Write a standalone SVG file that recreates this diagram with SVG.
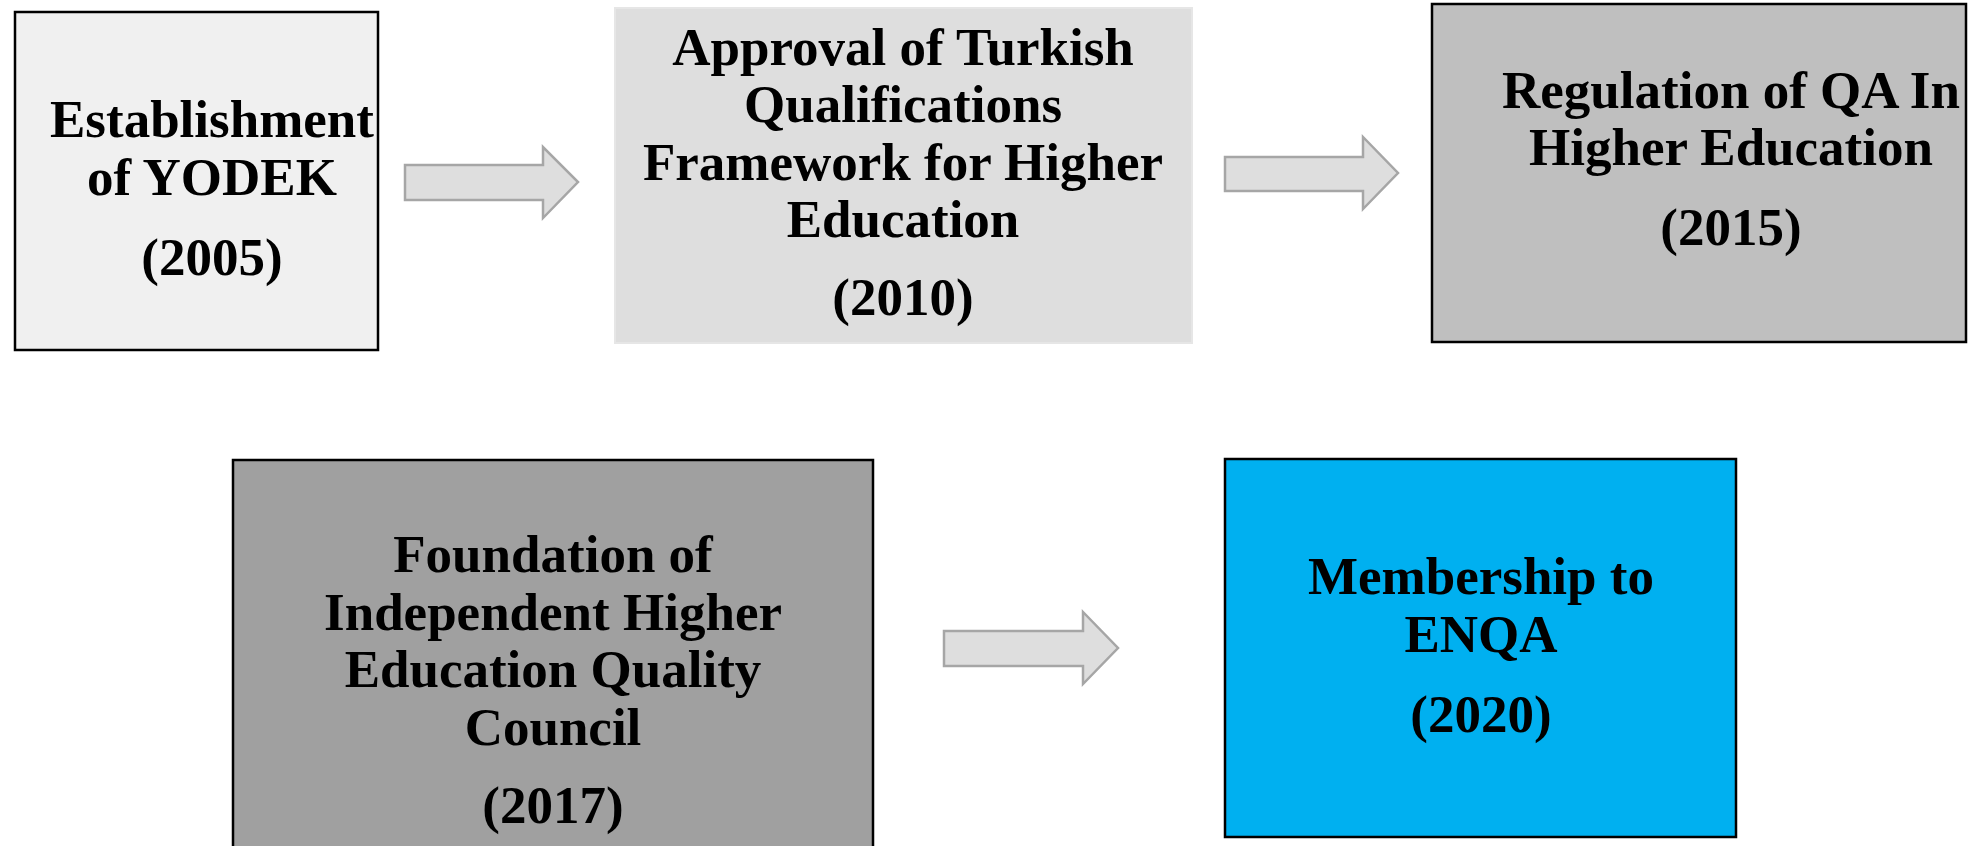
<svg xmlns="http://www.w3.org/2000/svg" width="1968" height="846" viewBox="0 0 1968 846">
<style>
.box{stroke:#000;stroke-width:2.5}
.t{font-family:"Liberation Serif","Times New Roman",serif;font-weight:bold;font-size:53px;fill:#000;text-anchor:middle}
.arr{fill:#dedede;stroke:#a6a6a6;stroke-width:2.5;stroke-linejoin:miter}
</style>
<rect width="1968" height="846" fill="#fff"/>
<g id="node-2005">
<rect class="box" x="15" y="12" width="363" height="338" fill="#f0f0f0"/>
<text class="t" x="212" y="137">Establishment</text>
<text class="t" x="212" y="195">of YODEK</text>
<text class="t" x="212" y="275">(2005)</text>
</g>
<g id="node-2010">
<rect x="615" y="8" width="577" height="335" fill="#dedede" stroke="#e6e6e6" stroke-width="2"/>
<text class="t" x="903" y="65">Approval of Turkish</text>
<text class="t" x="903" y="122">Qualifications</text>
<text class="t" x="903" y="180">Framework for Higher</text>
<text class="t" x="903" y="237">Education</text>
<text class="t" x="903" y="315">(2010)</text>
</g>
<g id="node-2015">
<rect class="box" x="1432" y="4" width="534" height="338" fill="#bfbfbf"/>
<text class="t" x="1731" y="108">Regulation of QA In</text>
<text class="t" x="1731" y="165">Higher Education</text>
<text class="t" x="1731" y="245">(2015)</text>
</g>
<g id="node-2017">
<rect class="box" x="233" y="460" width="640" height="400" fill="#a0a0a0"/>
<text class="t" x="553" y="572">Foundation of</text>
<text class="t" x="553" y="630">Independent Higher</text>
<text class="t" x="553" y="687">Education Quality</text>
<text class="t" x="553" y="745">Council</text>
<text class="t" x="553" y="823">(2017)</text>
</g>
<g id="node-2020">
<rect class="box" x="1225" y="459" width="511" height="378" fill="#00b0f0"/>
<text class="t" x="1481" y="594">Membership to</text>
<text class="t" x="1481" y="652">ENQA</text>
<text class="t" x="1481" y="732">(2020)</text>
</g>
<g id="connectors">
<polygon class="arr" points="405,165 543,165 543,147 578,182 543,218 543,200 405,200"/>
<polygon class="arr" points="1225,157 1363,157 1363,137 1398,173 1363,209 1363,191 1225,191"/>
<polygon class="arr" points="944,631 1083,631 1083,612 1118,648 1083,684 1083,666 944,666"/>
</g>
</svg>
